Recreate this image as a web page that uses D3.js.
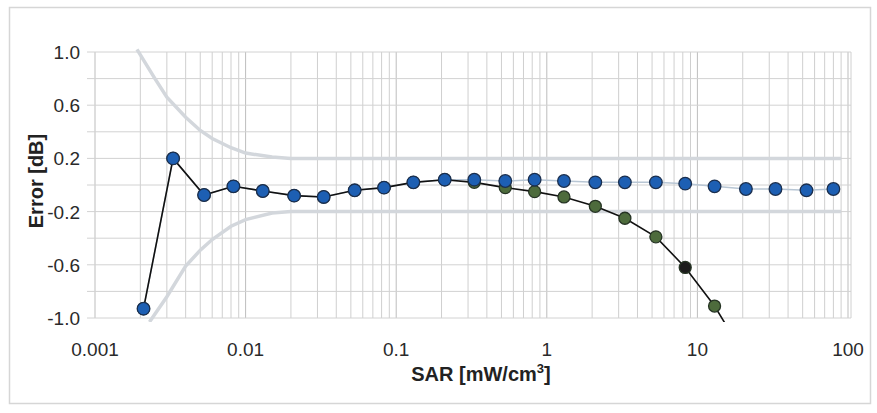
<!DOCTYPE html>
<html><head><meta charset="utf-8">
<script src="https://cdn.jsdelivr.net/npm/d3@7"></script>
<style>body{margin:0;background:#fff}svg{display:block}text{font-family:Arial,"Liberation Sans",sans-serif}</style>
</head><body><svg id="c" width="877" height="413"></svg>
<script>
// SAR values (mW/cm^3)
const sar = [0.0021,0.0033,0.0053,0.0083,0.013,0.021,0.033,0.053,0.083,0.13,0.21,0.33,0.53,0.83,1.3,2.1,3.3,5.3,8.3,13,21,33,53,80];
// blue series (corrected)
const errBlue = [-0.93,0.20,-0.075,-0.01,-0.045,-0.08,-0.09,-0.04,-0.02,0.02,0.04,0.04,0.03,0.04,0.03,0.02,0.02,0.02,0.01,-0.01,-0.03,-0.03,-0.04,-0.03];
// green series (uncorrected) -- last value runs off the chart
const errGreen = [-0.93,0.20,-0.075,-0.01,-0.045,-0.08,-0.09,-0.04,-0.02,0.02,0.04,0.02,-0.02,-0.05,-0.09,-0.16,-0.25,-0.39,-0.62,-0.91,-1.3];
// tolerance limits
const limUpX = [0.0019,0.0025,0.003,0.004,0.005,0.006,0.008,0.01,0.015,0.02,0.03,90];
const limUpY = [1.02,0.80,0.66,0.51,0.41,0.35,0.28,0.24,0.21,0.2,0.2,0.2];
const limLoX = [0.0023,0.003,0.004,0.005,0.006,0.008,0.01,0.015,0.02,0.03,90];
const limLoY = [-1.03,-0.84,-0.61,-0.49,-0.41,-0.31,-0.26,-0.21,-0.2,-0.2,-0.2];
const xTicks = [0.001,0.01,0.1,1,10,100];
const xTickLabels = ["0.001","0.01","0.1","1","10","100"];
const yTicks = [1.0,0.6,0.2,-0.2,-0.6,-1.0];
const yTickLabels = ["1.0","0.6","0.2","-0.2","-0.6","-1.0"];
const yGrid = [1.0,0.8,0.6,0.4,0.2,0,-0.2,-0.4,-0.6,-0.8,-1.0];

const svg = d3.select("#c");
const x = d3.scaleLog().domain([0.001,100]).range([95,848]);
const y = d3.scaleLinear().domain([-1,1]).range([318,52]);
const L=95, R=851, T=52, B=318;

// frame
svg.append("rect").attr("x",9.5).attr("y",7.5).attr("width",861).attr("height",396)
  .attr("fill","none").attr("stroke","#d6d6d6").attr("stroke-width",1.5);

// grid
const g = svg.append("g");
const minor = [];
for (let e=-3;e<=1;e++) for (let k=1;k<=9;k++) minor.push(k*Math.pow(10,e));
minor.push(100);
g.selectAll("line.v").data(minor).join("line")
  .attr("x1",d=>x(d)).attr("x2",d=>x(d)).attr("y1",T).attr("y2",B)
  .attr("stroke",d=>xTicks.includes(d)?"#bdbdbd":"#cfcfcf").attr("stroke-width",1);
g.selectAll("line.h").data(yGrid).join("line")
  .attr("x1",L-8).attr("x2",R).attr("y1",d=>y(d)).attr("y2",d=>y(d))
  .attr("stroke","#d2d2d2").attr("stroke-width",1);
g.append("line").attr("x1",R).attr("x2",R).attr("y1",T).attr("y2",B).attr("stroke","#d0d0d0");

// clip
svg.append("clipPath").attr("id","pc").append("rect").attr("x",L).attr("y",T-6).attr("width",R-L+4).attr("height",B-T+10);

const line = d3.line().x(d=>x(d[0])).y(d=>y(d[1]));
const pl = svg.append("g").attr("clip-path","url(#pc)");
pl.append("path").attr("d",line(d3.zip(limUpX,limUpY))).attr("fill","none").attr("stroke","#d3d7dc").attr("stroke-width",3.5);
pl.append("path").attr("d",line(d3.zip(limLoX,limLoY))).attr("fill","none").attr("stroke","#d3d7dc").attr("stroke-width",3.5);

// blue connecting line (faint)
pl.append("path").attr("d",line(d3.zip(sar,errBlue))).attr("fill","none").attr("stroke","#b8c6d4").attr("stroke-width",1.5);
// green series line (black)
const greenPts = d3.zip(sar.slice(0,errGreen.length),errGreen);
pl.append("path").attr("d",line(greenPts)).attr("fill","none").attr("stroke","#111").attr("stroke-width",1.6);

// green markers
pl.selectAll("circle.g").data(greenPts).join("circle")
  .attr("cx",d=>x(d[0])).attr("cy",d=>y(d[1])).attr("r",6)
  .attr("fill",(d,i)=>i===18?"#1c1c1c":"#4d6b3c").attr("stroke","#263424").attr("stroke-width",1.3);
// blue markers
pl.selectAll("circle.b").data(d3.zip(sar,errBlue)).join("circle")
  .attr("cx",d=>x(d[0])).attr("cy",d=>y(d[1])).attr("r",6.3)
  .attr("fill","#1d5fb3").attr("stroke","#1b2f4e").attr("stroke-width",1.3);

// tick labels
svg.selectAll("text.yt").data(yTicks).join("text")
  .attr("x",80).attr("y",d=>y(d)+7).attr("text-anchor","end")
  .attr("font-size",19).attr("fill","#2a2a2a").text((d,i)=>yTickLabels[i]);
svg.selectAll("text.xt").data(xTicks).join("text")
  .attr("x",d=>x(d)).attr("y",356).attr("text-anchor","middle")
  .attr("font-size",19).attr("fill","#2a2a2a").text((d,i)=>xTickLabels[i]);

// axis titles
svg.append("text").attr("transform","translate(43,181) rotate(-90)").attr("text-anchor","middle")
  .attr("font-size",20).attr("font-weight","bold").attr("fill","#222").text("Error [dB]");
const xt = svg.append("text").attr("x",481).attr("y",381).attr("text-anchor","middle")
  .attr("font-size",20).attr("font-weight","bold").attr("fill","#222");
xt.append("tspan").text("SAR [mW/cm");
xt.append("tspan").attr("font-size",13).attr("dy",-8).text("3");
xt.append("tspan").attr("dy",8).text("]");
</script></body></html>
